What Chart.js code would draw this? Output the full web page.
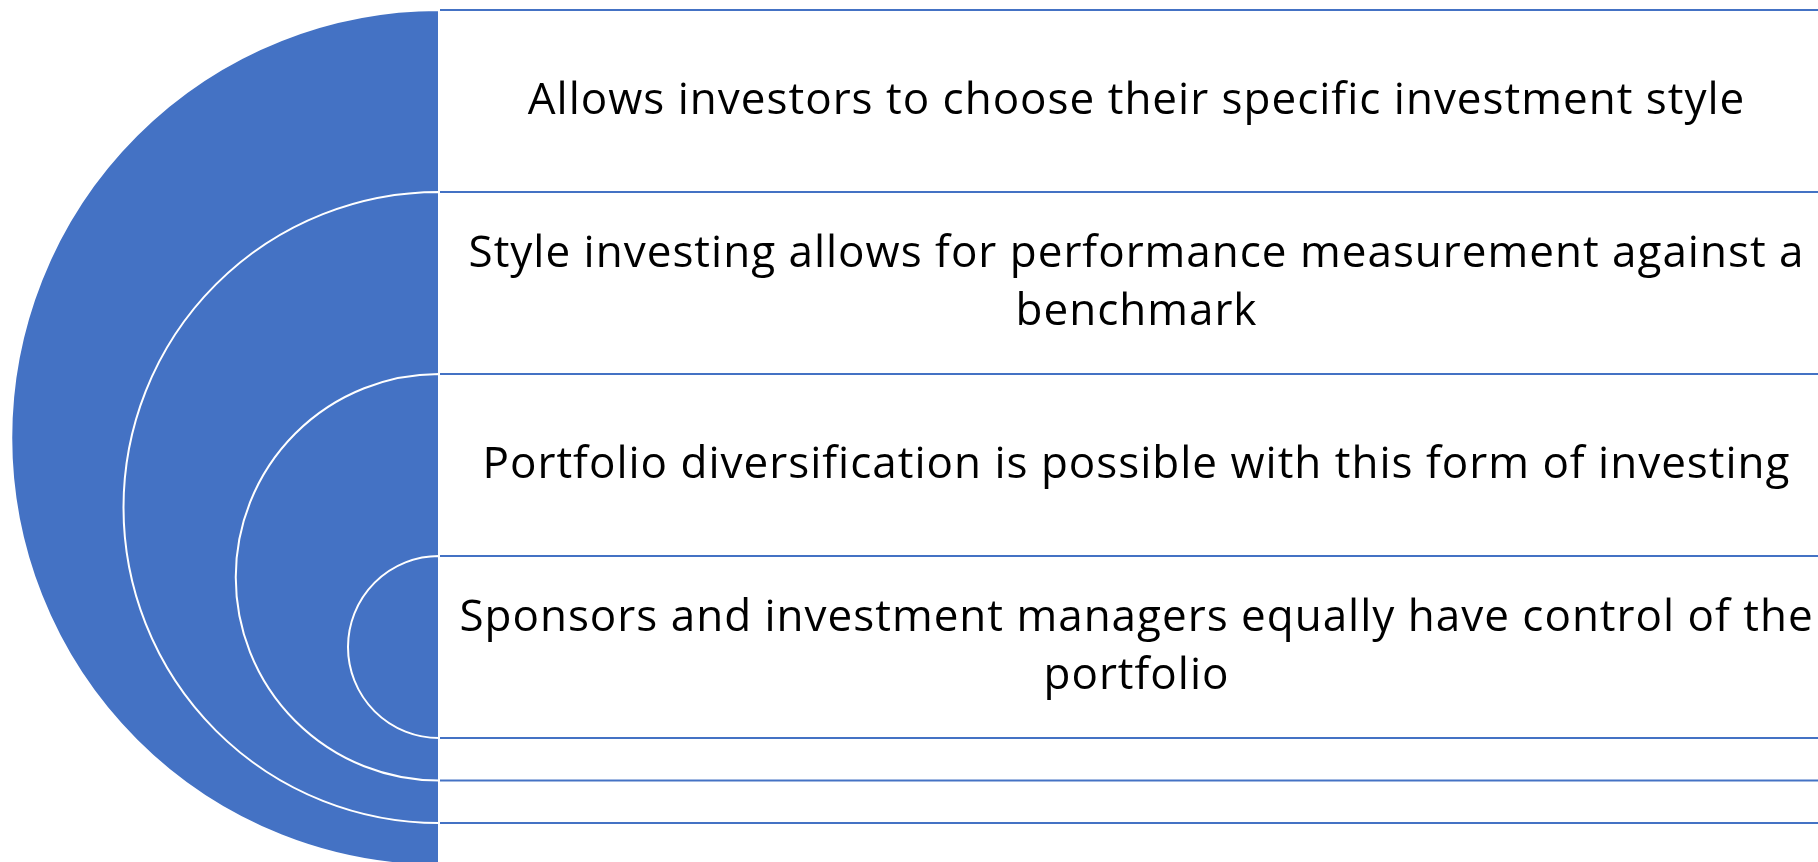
<!DOCTYPE html>
<html>
<head>
<meta charset="utf-8">
<script src="https://cdn.jsdelivr.net/npm/chart.js@4.4.0/dist/chart.umd.min.js"></script>
<style>
  html, body { margin: 0; padding: 0; background: #ffffff; }
  canvas { display: block; }
</style>
</head>
<body>
<canvas id="nestedChart" width="1818" height="862"></canvas>
<script>
// one entry per level, outermost first; inner arrays are the wrapped lines
const levelLabels = [
    ['Allows investors to choose their specific investment style'],
    ['Style investing allows for performance measurement against a', 'benchmark'],
    ['Portfolio diversification is possible with this form of investing'],
    ['Sponsors and investment managers equally have control of the', 'portfolio'],
];

const fillColor = '#4472C4';
const textColor = '#000000';

// layout, in canvas units (the scales run 0..1818 and 0..862)
const W = 1818, H = 862;
const TOP = 10;
const ROW = 182;
const STEP = 42.5;
const SPLIT_X = 439;
const BOX_RIGHT = 1834;
const LINE_GAP = 58;

function levelGeom(i) {
    const n = levelLabels.length;
    const top = TOP + i * ROW;
    const bottom = TOP + n * ROW + (n - 1 - i) * STEP;
    return { top, bottom, cy: (top + bottom) / 2, r: (bottom - top) / 2 };
}

const nestedPlugin = {
    id: 'nestedTarget',
    afterDraw(chart) {
        const ctx = chart.ctx;
        const xs = chart.scales.x, ys = chart.scales.y;
        const px = v => xs.getPixelForValue(v);
        const py = v => ys.getPixelForValue(v);

        ctx.save();
        // boxes, back to front
        levelLabels.forEach((lines, i) => {
            const g = levelGeom(i);
            const x0 = px(SPLIT_X), x1 = px(BOX_RIGHT);
            const y0 = py(g.top), y1 = py(g.bottom);
            ctx.fillStyle = '#ffffff';
            ctx.fillRect(x0, y0, x1 - x0, y1 - y0);
            ctx.strokeStyle = fillColor;
            ctx.lineWidth = 2;
            ctx.strokeRect(x0, y0, x1 - x0, y1 - y0);
        });

        // half discs
        levelLabels.forEach((lines, i) => {
            const g = levelGeom(i);
            const cx = px(SPLIT_X), cy = py(g.cy);
            const r = py(g.cy + g.r) - cy;
            ctx.beginPath();
            ctx.arc(cx, cy, Math.abs(r), Math.PI / 2, Math.PI * 3 / 2, false);
            ctx.closePath();
            ctx.fillStyle = fillColor;
            ctx.fill();
            ctx.strokeStyle = '#ffffff';
            ctx.lineWidth = 2;
            ctx.stroke();
        });

        // labels
        ctx.fillStyle = textColor;
        ctx.font = '44px "Open Sans"';
        ctx.letterSpacing = '1px';
        ctx.textAlign = 'center';
        ctx.textBaseline = 'middle';
        levelLabels.forEach((lines, i) => {
            const g = levelGeom(i);
            const mid = g.top + ROW / 2;
            const cx = (px(SPLIT_X) + px(BOX_RIGHT)) / 2;
            lines.forEach((t, k) => {
                const yv = mid + (k - (lines.length - 1) / 2) * LINE_GAP;
                ctx.fillText(t, cx, py(yv));
            });
        });
        ctx.restore();
    }
};

new Chart(document.getElementById('nestedChart'), {
    type: 'scatter',
    data: { datasets: [{ data: [], pointRadius: 0 }] },
    options: {
        responsive: false,
        animation: false,
        events: [],
        layout: { padding: 0 },
        plugins: { legend: { display: false }, tooltip: { enabled: false } },
        scales: {
            x: { type: 'linear', min: 0, max: W, display: false },
            y: { type: 'linear', min: 0, max: H, reverse: true, display: false },
        },
    },
    plugins: [nestedPlugin],
});
</script>
</body>
</html>
